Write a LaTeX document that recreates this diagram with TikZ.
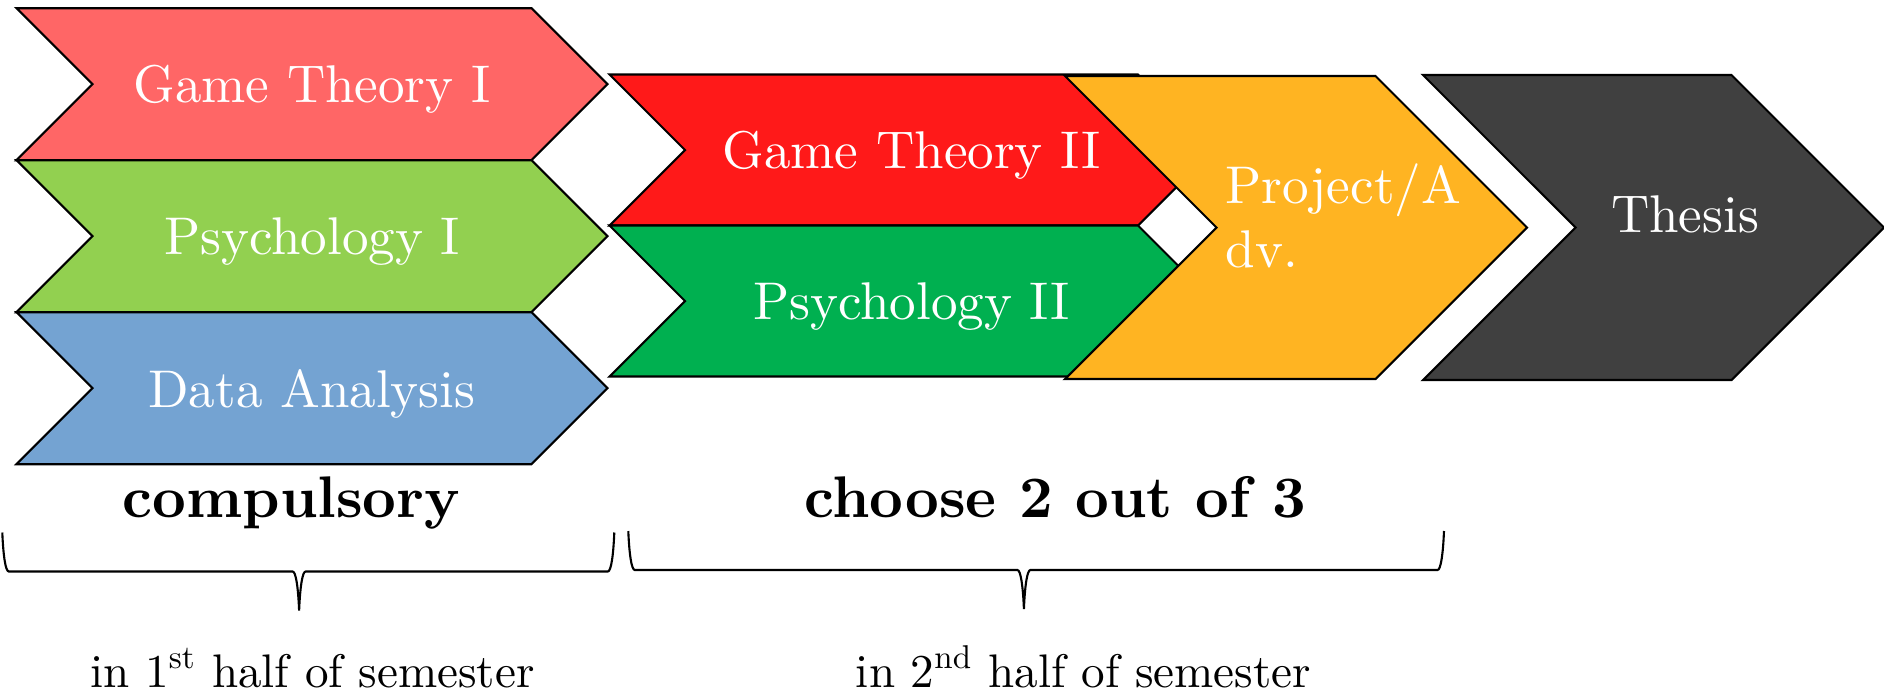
\documentclass[tikz,border=0pt]{standalone}
\usepackage{fontspec}
\setmainfont{lmroman10-regular.otf}[BoldFont=lmroman10-bold.otf]
\usepackage{tikz}
\usetikzlibrary{shapes.symbols, positioning, decorations.pathreplacing}
\definecolor{gtonecolor}{RGB}{255,102,102}
\definecolor{psyonecolor}{RGB}{146,208,80}
\definecolor{datacolor}{RGB}{116,163,210}
\definecolor{gttwocolor}{RGB}{255,25,25}
\definecolor{psytwocolor}{RGB}{0,176,80}
\definecolor{projcolor}{RGB}{255,180,34}
\definecolor{thesiscolor}{RGB}{64,64,64}
\tikzset{
    course/.style={signal, signal from=west, signal to=east, signal pointer angle=90,
        draw=black, semithick, text=white, inner sep=0pt, outer sep=0pt,
        text depth=0pt, font=\fontsize{15.1}{18.2}\selectfont},
    coursetext/.style={text=white, inner sep=0pt, align=left,
        font=\fontsize{15.1}{18.2}\selectfont},
    groupname/.style={inner sep=0pt, font=\fontsize{16.7}{20}\selectfont\bfseries},
    halfname/.style={inner sep=0pt, font=\fontsize{13.4}{16}\selectfont},
    bracket/.style={decorate, decoration={brace, mirror, amplitude=0.065cm, aspect=0.485,
        transform={yscale=12}}, semithick}
}

\begin{document}
\begin{tikzpicture}

    \useasboundingbox (0,0) rectangle (18.84,-6.95);

    % compulsory courses
    \node[course, fill=gtonecolor, minimum width=5.91cm, minimum height=1.52cm] (gtone) at (3.12,-0.842) {Game Theory I};
    \node[course, fill=psyonecolor, minimum width=5.91cm, minimum height=1.52cm, below=0pt of gtone] (psyone) {Psychology I};
    \node[course, fill=datacolor, minimum width=5.91cm, minimum height=1.52cm, below=0pt of psyone] (data) {Data Analysis};

    % elective courses
    \node[course, fill=gttwocolor, minimum width=6.04cm, minimum height=1.51cm] (gttwo) at (9.115,-1.50) {Game Theory II};
    \node[course, fill=psytwocolor, minimum width=6.04cm, minimum height=1.51cm, below=0pt of gttwo] (psytwo) {Psychology II};
    \node[course, fill=projcolor, minimum width=4.62cm, minimum height=3.03cm] (proj) at (12.96,-2.275) {};
    \node[coursetext, anchor=north west] (projlabel) at (12.25,-1.629) {Project/A\\dv.};

    % final step
    \node[course, fill=thesiscolor, minimum width=4.61cm, minimum height=3.05cm] (thesis) at (16.535,-2.275) {};
    \node[coursetext, anchor=base] (thesislabel) at (16.85,-2.327) {Thesis};

    % braces and their labels
    \node[groupname, anchor=base] (compulsory) at (2.914,-5.17) {compulsory};
    \node[groupname, anchor=base] (choose) at (10.55,-5.17) {choose 2 out of 3};

    \coordinate (firstleft) at (0.023,-5.325);
    \coordinate (firstright) at (6.143,-5.325);
    \coordinate (secondleft) at (6.283,-5.31);
    \coordinate (secondright) at (14.44,-5.31);
    \draw[bracket] (firstleft) -- (firstright);
    \draw[bracket] (secondleft) -- (secondright);

    \node[halfname, anchor=base] (firsthalf) at (3.125,-6.87) {in 1\textsuperscript{st} half of semester};
    \node[halfname, anchor=base] (secondhalf) at (10.835,-6.87) {in 2\textsuperscript{nd} half of semester};

\end{tikzpicture}
\end{document}
